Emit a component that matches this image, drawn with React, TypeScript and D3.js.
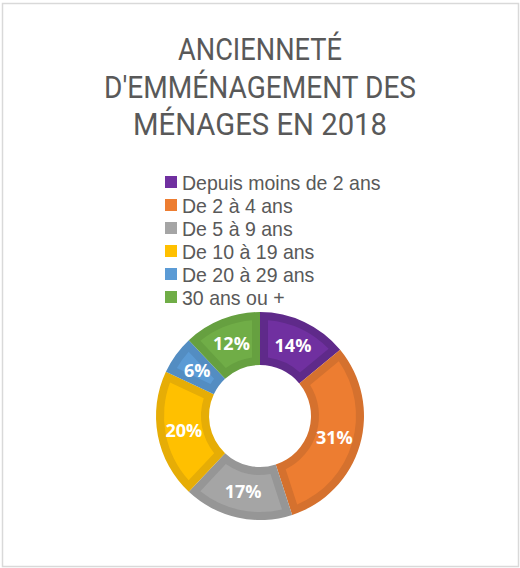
import React from "react";
import * as d3 from "d3";

const titleLines = ["ANCIENNETÉ", "D'EMMÉNAGEMENT DES", "MÉNAGES EN 2018"];
const categories = [
  "Depuis moins de 2 ans",
  "De 2 à 4 ans",
  "De 5 à 9 ans",
  "De 10 à 19 ans",
  "De 20 à 29 ans",
  "30 ans ou +",
];
const values = [14, 31, 17, 20, 6, 12];
const fillColors = ["#7030A0", "#ED7D31", "#A5A5A5", "#FFC000", "#5B9BD5", "#70AD47"];
const edgeColors = ["#5F2A8A", "#D5712E", "#969696", "#E6AD06", "#538DC2", "#66A040"];

const W = 520;
const H = 568;
const cx = 260;
const cy = 416;
const rOuter = 104;
const rInner = 51;
const inset = 8;

const titleWidths = [164, 312, 254];

export default function App() {
  const pie = d3.pie<number>().sort(null).value((d) => d)(values);
  const arcOuter = d3.arc<d3.PieArcDatum<number>>().innerRadius(rInner).outerRadius(rOuter);
  const arcInner = d3
    .arc<d3.PieArcDatum<number>>()
    .innerRadius(rInner + inset)
    .outerRadius(rOuter - inset)
    .padRadius(100)
    .padAngle((2 * inset) / 100);
  const labelArc = d3.arc<d3.PieArcDatum<number>>().innerRadius(rInner).outerRadius(rOuter);
  const legendY = d3.scaleBand<string>().domain(categories).range([176, 176 + 23 * categories.length]);

  return (
    <svg width={W} height={H} style={{ position: "absolute", left: 0, top: 0, background: "#fff" }}>
      <rect x={2.5} y={3.5} width={516} height={563} fill="#fff" stroke="#D9D9D9" strokeWidth={1.5} />
      {titleLines.map((t, i) => (
        <text
          key={t}
          x={cx}
          y={60 + i * 37.5}
          textAnchor="middle"
          fontFamily="Roboto, sans-serif"
          fontSize={32}
          fill="#595959"
          textLength={titleWidths[i]}
          lengthAdjust="spacingAndGlyphs"
        >
          {t}
        </text>
      ))}
      {categories.map((c, i) => (
        <g key={c} transform={`translate(165,${legendY(c)})`}>
          <rect width={12} height={12} fill={fillColors[i]} />
          <text
            transform="translate(17,13.5) scale(0.93,1)"
            fontFamily="'Liberation Sans', Arial, sans-serif"
            fontSize={21}
            fill="#595959"
          >
            {c}
          </text>
        </g>
      ))}
      <g transform={`translate(${cx},${cy})`}>
        {pie.map((d, i) => (
          <g key={i}>
            <path d={arcOuter(d) || ""} fill={edgeColors[i]} />
            <path d={arcInner(d) || ""} fill={fillColors[i]} />
          </g>
        ))}
        {pie.map((d, i) => {
          const [x, y] = labelArc.centroid(d);
          return (
            <text
              key={"l" + i}
              x={x}
              y={y}
              dy="0.36em"
              textAnchor="middle"
              fontFamily="'Open Sans', sans-serif"
              fontWeight="bold"
              fontSize={18}
              fill="#fff"
            >
              {values[i]}%
            </text>
          );
        })}
      </g>
    </svg>
  );
}
